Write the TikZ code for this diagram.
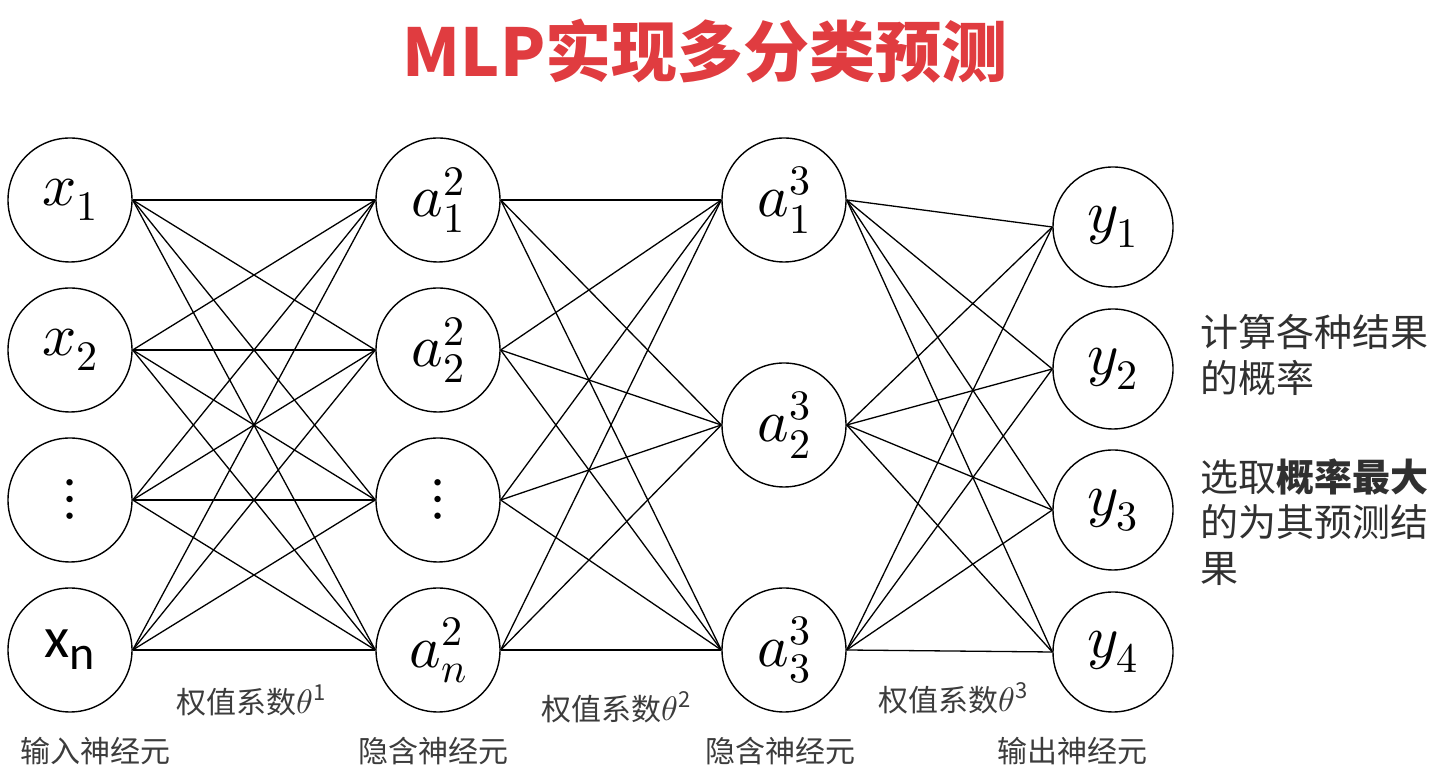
\documentclass[tikz,border=0pt]{standalone}
\usepackage{fontspec}
\usepackage{unicode-math}
\newfontfamily\cjk{Noto Sans CJK SC}
\newfontfamily\calib{Carlito}
\definecolor{titlered}{RGB}{224,60,64}
\definecolor{tagray}{RGB}{60,60,60}
\newcommand{\wsup}[1]{\raisebox{13pt}{\fontsize{22}{22}\selectfont #1}}

\begin{document}
\begin{tikzpicture}[x=1pt,y=1pt,
  neuron/.style={draw,circle,minimum size=124pt,inner sep=0pt,line width=1.4pt,
    font=\fontsize{60}{66}\selectfont},
  link/.style={line width=1.3pt},
  layertag/.style={font=\cjk\fontsize{30}{36}\selectfont,text=tagray,inner sep=0pt},
  sidenote/.style={font=\cjk\fontsize{38}{45.5}\selectfont,text=tagray!80!black,align=left,
    anchor=west,inner sep=0pt}]
\useasboundingbox (0,0) rectangle (1456,775);

\node[font=\cjk\bfseries\fontsize{66}{74}\selectfont,text=titlered] (title) at (705,724) {MLP实现多分类预测};

% input layer
\node[neuron] (x1) at (70,575) {$x_1$};
\node[neuron] (x2) at (70,425) {$x_2$};
\node[neuron] (x3) at (70,275) {$\vdots$};
\node[neuron] (x4) at (70,125) {\calib\fontsize{58}{60}\selectfont x\raisebox{-12pt}{\fontsize{48}{50}\selectfont n}};

% first hidden layer
\node[neuron] (h1) at (438,575) {$a_1^2$};
\node[neuron] (h2) at (438,425) {$a_2^2$};
\node[neuron] (h3) at (438,275) {$\vdots$};
\node[neuron] (h4) at (438,125) {$a_n^2$};

% second hidden layer
\node[neuron] (g1) at (784,575) {$a_1^3$};
\node[neuron] (g2) at (784,350) {$a_2^3$};
\node[neuron] (g3) at (784,125) {$a_3^3$};

% output layer
\node[neuron,minimum size=120pt] (y1) at (1113,548) {$y_1$};
\node[neuron,minimum size=120pt] (y2) at (1113,406) {$y_2$};
\node[neuron,minimum size=120pt] (y3) at (1113,265) {$y_3$};
\node[neuron,minimum size=120pt] (y4) at (1113,123) {$y_4$};

\foreach \i in {1,...,4}
  \foreach \j in {1,...,4}
    \draw[link] (x\i.east) -- (h\j.west);
\foreach \i in {1,...,4}
  \foreach \j in {1,...,3}
    \draw[link] (h\i.east) -- (g\j.west);
\foreach \i in {1,...,3}
  \foreach \j in {1,...,4}
    \draw[link] (g\i.east) -- (y\j.west);

\node[layertag] (w1) at (251,75) {权值系数{\fontsize{34}{36}\selectfont$\theta$}\wsup{1}};
\node[layertag] (w2) at (616,68) {权值系数{\fontsize{34}{36}\selectfont$\theta$}\wsup{2}};
\node[layertag] (w3) at (953,77) {权值系数{\fontsize{34}{36}\selectfont$\theta$}\wsup{3}};

\node[layertag] (n1) at (95,24) {输入神经元};
\node[layertag] (n2) at (433,24) {隐含神经元};
\node[layertag] (n3) at (780,24) {隐含神经元};
\node[layertag] (n4) at (1072,24) {输出神经元};

\node[sidenote] (s1) at (1200,420) {计算各种结果\\的概率};
\node[sidenote] (s2) at (1200,253) {选取{\bfseries 概率最大}\\的为其预测结\\果};
\end{tikzpicture}
\end{document}
